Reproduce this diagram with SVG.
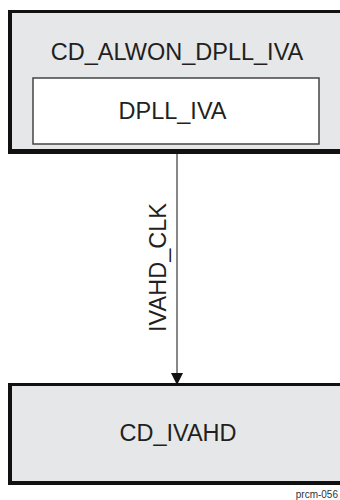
<svg xmlns="http://www.w3.org/2000/svg" width="340" height="500" viewBox="0 0 340 500">
<style>
.t{font-family:"Liberation Sans",Arial,sans-serif;font-size:23.5px;fill:#231f20;text-anchor:middle}
.frame{fill:#111}
.fill{fill:#e6e7e8}
</style>
<defs>
<marker id="ah" markerWidth="14" markerHeight="12" refX="14" refY="7" orient="auto" markerUnits="userSpaceOnUse" viewBox="0 0 14 14">
<path d="M0,0 L14,7 L0,14 Z" fill="#111"/>
</marker>
</defs>
<rect width="340" height="500" fill="#fff"/>
<g id="cd_alwon_dpll_iva">
<rect class="frame" x="8" y="10" width="340" height="144"/>
<rect class="fill" x="12" y="13" width="340" height="136"/>
<text class="t" x="177" y="60">CD_ALWON_DPLL_IVA</text>
</g>
<g id="dpll_iva">
<rect x="33" y="78" width="286" height="66" fill="#fff" stroke="#444" stroke-width="1.5"/>
<text class="t" x="172.5" y="119">DPLL_IVA</text>
</g>
<g id="cd_ivahd">
<rect class="frame" x="8" y="383" width="340" height="102"/>
<rect class="fill" x="12" y="386" width="340" height="95"/>
<text class="t" x="178" y="441">CD_IVAHD</text>
</g>
<g id="connectors">
<line x1="177" y1="154" x2="177" y2="385" stroke="#111" stroke-width="1" marker-end="url(#ah)"/>
<text class="t" transform="translate(166,267.5) rotate(-90)" x="0" y="0">IVAHD_CLK</text>
</g>
<text x="338" y="498" text-anchor="end" style="font-family:'Liberation Sans',Arial,sans-serif;font-size:10px;fill:#333">prcm-056</text>
</svg>
